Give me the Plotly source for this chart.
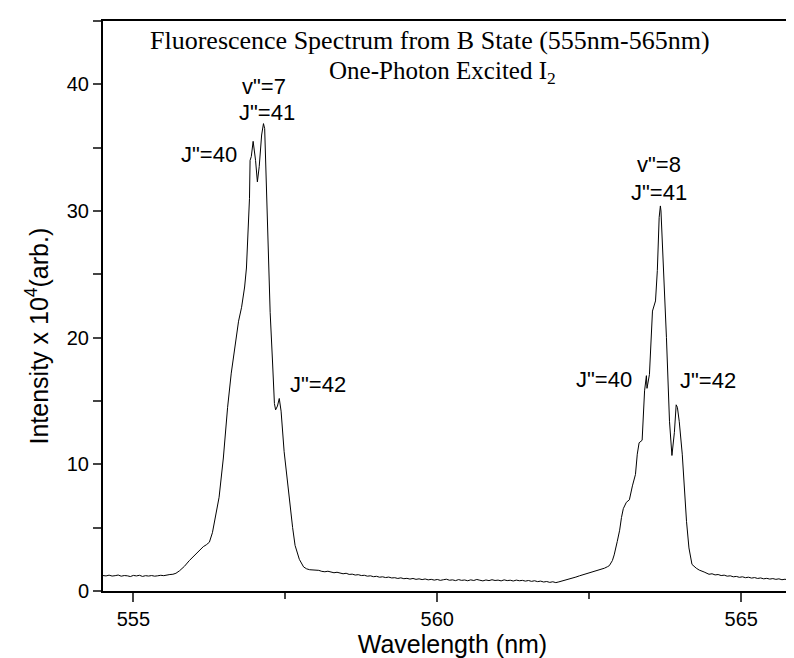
import plotly.graph_objects as go

# spectrum, split by region (wavelength nm, intensity x 10^4)
base_left_wl = [554.50, 554.55, 554.60, 554.65, 554.70, 554.75, 554.80, 554.85, 554.90, 554.95,
                555.00, 555.05, 555.10, 555.15, 555.20, 555.25, 555.30, 555.35, 555.40, 555.45,
                555.50, 555.55, 555.60, 555.65, 555.70]
base_left_int = [1.22, 1.19, 1.25, 1.18, 1.21, 1.26, 1.17, 1.22, 1.20, 1.14,
                 1.23, 1.19, 1.24, 1.15, 1.21, 1.18, 1.22, 1.17, 1.20, 1.24,
                 1.21, 1.27, 1.30, 1.32, 1.40]

peak7_wl = [555.76, 555.84, 555.92, 556.00, 556.09, 556.15, 556.20, 556.25, 556.30, 556.35,
            556.41, 556.48, 556.55, 556.61, 556.66, 556.73, 556.78, 556.83, 556.86, 556.89,
            556.91, 556.92, 556.94, 556.97, 557.01, 557.04, 557.07, 557.11, 557.14, 557.16,
            557.19, 557.22, 557.25, 557.29, 557.32, 557.34, 557.37, 557.40, 557.43, 557.48,
            557.53, 557.57, 557.62, 557.66, 557.73, 557.80, 557.85]
peak7_int = [1.60, 1.95, 2.40, 2.80, 3.25, 3.50, 3.65, 3.85, 4.60, 5.80,
             7.40, 10.5, 14.5, 17.2, 18.8, 21.3, 22.4, 24.0, 25.5, 28.5,
             31.0, 34.0, 34.3, 35.5, 34.0, 32.3, 33.5, 36.0, 36.9, 36.5,
             32.0, 27.0, 22.0, 18.0, 14.8, 14.3, 14.6, 15.2, 14.2, 11.0,
             8.8, 7.0, 5.0, 3.6, 2.5, 1.90, 1.75]

base_mid_wl = [557.90, 557.95, 558.00, 558.05, 558.10, 558.15, 558.20, 558.25, 558.30, 558.35,
               558.40, 558.45, 558.50, 558.55, 558.60, 558.65, 558.70, 558.75, 558.80, 558.85,
               558.90, 558.95, 559.00, 559.05, 559.10, 559.15, 559.20, 559.25, 559.30, 559.35,
               559.40, 559.45, 559.50, 559.55, 559.60, 559.65, 559.70, 559.75, 559.80, 559.85,
               559.90, 559.95, 560.00, 560.05, 560.10, 560.15, 560.20, 560.25, 560.30, 560.35,
               560.40, 560.45, 560.50, 560.55, 560.60, 560.65, 560.70, 560.75, 560.80, 560.85,
               560.90, 560.95, 561.00, 561.05, 561.10, 561.15, 561.20, 561.25, 561.30, 561.35,
               561.40, 561.45, 561.50, 561.55, 561.60, 561.65, 561.70, 561.75, 561.80, 561.85,
               561.90, 561.95, 562.00, 562.05]
base_mid_int = [1.68, 1.66, 1.60, 1.63, 1.55, 1.52, 1.56, 1.47, 1.44, 1.48,
                1.39, 1.36, 1.40, 1.31, 1.33, 1.26, 1.29, 1.22, 1.24, 1.17,
                1.20, 1.13, 1.16, 1.09, 1.12, 1.06, 1.10, 1.03, 1.05, 0.99,
                1.04, 0.97, 1.00, 0.94, 0.99, 0.92, 0.96, 0.90, 0.95, 0.88,
                0.92, 0.86, 0.91, 0.84, 0.89, 0.93, 0.85, 0.88, 0.82, 0.90,
                0.84, 0.87, 0.81, 0.88, 0.83, 0.91, 0.85, 0.80, 0.87, 0.82,
                0.89, 0.83, 0.86, 0.80, 0.88, 0.82, 0.85, 0.79, 0.86, 0.81,
                0.84, 0.78, 0.83, 0.76, 0.81, 0.74, 0.78, 0.71, 0.75, 0.68,
                0.73, 0.66, 0.72, 0.78]

peak8_wl = [562.10, 562.17, 562.22, 562.28, 562.34, 562.40, 562.45, 562.50, 562.56, 562.62,
            562.68, 562.75, 562.80, 562.83, 562.88, 562.91, 562.96, 563.00, 563.03, 563.06,
            563.11, 563.16, 563.21, 563.26, 563.29, 563.32, 563.37, 563.41, 563.44, 563.45,
            563.49, 563.54, 563.59, 563.62, 563.65, 563.67, 563.68, 563.70, 563.73, 563.77,
            563.82, 563.85, 563.86, 563.90, 563.93, 563.95, 563.98, 564.03, 564.06, 564.10,
            564.14, 564.19, 564.26, 564.31, 564.39, 564.47]
peak8_int = [0.85, 0.98, 1.04, 1.10, 1.20, 1.28, 1.34, 1.45, 1.50, 1.60,
             1.68, 1.80, 1.92, 2.00, 2.40, 2.85, 3.90, 4.80, 5.80, 6.50,
             7.00, 7.20, 8.30, 9.20, 10.8, 11.7, 11.9, 15.8, 17.0, 16.0,
             17.1, 22.1, 22.9, 25.3, 29.5, 30.4, 30.0, 27.9, 24.0, 20.0,
             13.4, 11.3, 10.7, 12.5, 14.7, 14.5, 13.4, 10.8, 8.1, 5.5,
             3.4, 2.1, 1.80, 1.65, 1.50, 1.32]

base_right_wl = [564.52, 564.57, 564.62, 564.67, 564.72, 564.77, 564.82, 564.87, 564.92, 564.97,
                 565.02, 565.07, 565.12, 565.17, 565.22, 565.27, 565.32, 565.37, 565.42, 565.47,
                 565.52, 565.57, 565.62, 565.67, 565.72, 565.77, 565.82, 565.87, 565.92, 565.97,
                 566.02]
base_right_int = [1.36, 1.27, 1.30, 1.22, 1.25, 1.17, 1.20, 1.12, 1.15, 1.08,
                  1.12, 1.05, 1.09, 1.02, 1.06, 0.99, 1.03, 0.96, 1.00, 0.94,
                  0.98, 0.92, 0.96, 0.89, 0.93, 0.87, 0.91, 0.85, 0.89, 0.84,
                  0.87]

wavelength = base_left_wl + peak7_wl + base_mid_wl + peak8_wl + base_right_wl
intensity = base_left_int + peak7_int + base_mid_int + peak8_int + base_right_int

# peak labels
label_text = ['v"=7', 'J"=41', 'J"=40', 'J"=42', 'v"=8', 'J"=41', 'J"=40', 'J"=42']
label_x = [557.15, 557.19, 556.25, 558.03, 563.65, 563.65, 562.75, 564.46]
label_y = [39.8, 37.8, 34.5, 16.3, 33.7, 31.5, 16.7, 16.6]

title_lines = ["Fluorescence Spectrum from B State (555nm-565nm)",
               "One-Photon Excited I<sub>2</sub>"]

sans = "Liberation Sans, Arial, sans-serif"
serif = "Liberation Serif, Times New Roman, serif"

fig = go.Figure()
fig.add_trace(go.Scatter(x=wavelength, y=intensity, mode='lines',
                         line=dict(color='black', width=1), showlegend=False))

for t, x, y in zip(label_text, label_x, label_y):
    fig.add_annotation(x=x, y=y, text=t, showarrow=False,
                       xanchor='center', yanchor='middle',
                       font=dict(family=sans, size=22, color='black'))

fig.add_annotation(xref='paper', yref='paper', x=0.468, y=0.966, text=title_lines[0],
                   showarrow=False, xanchor='center', yanchor='middle',
                   font=dict(family=serif, size=26, color='black'))
fig.add_annotation(xref='paper', yref='paper', x=0.486, y=0.909, text=title_lines[1],
                   showarrow=False, xanchor='center', yanchor='middle',
                   font=dict(family=serif, size=25, color='black'))

fig.add_annotation(xref='paper', yref='paper', x=-0.094, y=0.447,
                   text="Intensity x 10<sup>4</sup>(arb.)", textangle=-90, showarrow=False,
                   xanchor='center', yanchor='middle',
                   font=dict(family=sans, size=25, color='black'))

fig.update_layout(
    width=794, height=658,
    margin=dict(l=95, r=0, t=13, b=75),
    plot_bgcolor='white', paper_bgcolor='white',
    xaxis=dict(range=[554.5, 566.0], tick0=555, dtick=5, ticks='outside', ticklen=9,
               tickwidth=2, linecolor='black', linewidth=2, mirror=True, showgrid=False,
               zeroline=False, tickfont=dict(family=sans, size=20, color='black'),
               minor=dict(dtick=2.5, ticks='outside', ticklen=6, tickwidth=2),
               title=dict(text="Wavelength (nm)", standoff=6,
                          font=dict(family=sans, size=25, color='black'))),
    yaxis=dict(range=[0, 45], tick0=0, dtick=10, ticks='outside', ticklen=8,
               tickwidth=2, linecolor='black', linewidth=2, showgrid=False,
               zeroline=False, tickfont=dict(family=sans, size=20, color='black'),
               minor=dict(dtick=5, ticks='outside', ticklen=8, tickwidth=2)),
)

fig.write_html("out.html")
